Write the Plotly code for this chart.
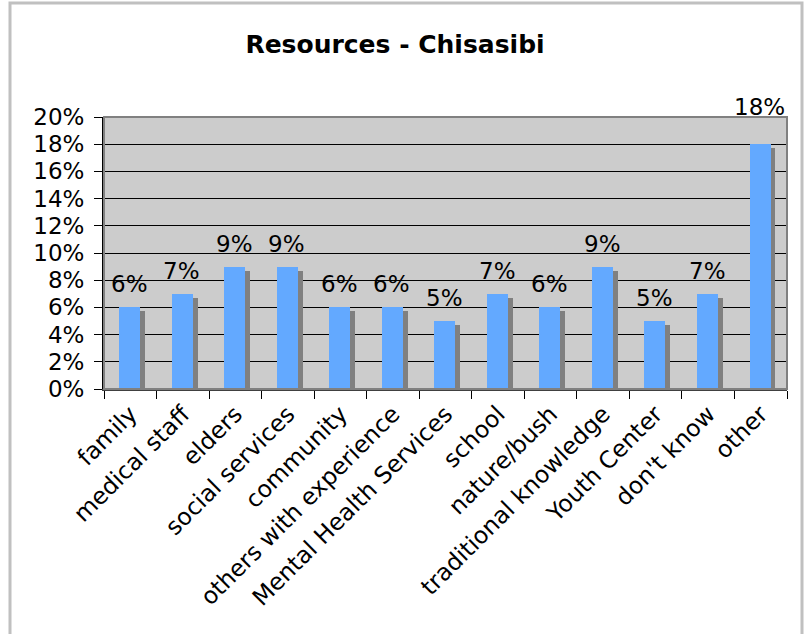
import plotly.graph_objects as go

# Share of respondents naming each resource (percent)
categories = [
    "family", "medical staff", "elders", "social services", "community",
    "others with experience", "Mental Health Services", "school",
    "nature/bush", "traditional knowledge", "Youth Center", "don't know", "other",
]
values = [6, 7, 9, 9, 6, 6, 5, 7, 6, 9, 5, 7, 18]
y_ticks = [0, 2, 4, 6, 8, 10, 12, 14, 16, 18, 20]

W, H = 804, 634
L, R, T, B = 104, 17, 117, 245
plot_w = W - L - R
plot_h = H - T - B
px_per_unit = plot_h / 20.0

BLUE = "#63A9FF"
SHADOW = "#808080"
FONT = "DejaVu Sans"
FS = 23

fig = go.Figure()

# drop shadow behind each column, a few pixels right and down
shadow_drop = 4 / px_per_unit
fig.add_trace(go.Bar(
    x=categories,
    y=[v - shadow_drop for v in values],
    width=0.4, offset=-0.12,
    marker=dict(color=SHADOW, line=dict(width=0)),
    hoverinfo="skip", showlegend=False,
))
fig.add_trace(go.Bar(
    x=categories,
    y=values,
    width=0.4, offset=-0.213,
    marker=dict(color=BLUE, line=dict(width=0)),
    showlegend=False,
))

# value labels above the columns
for c, v in zip(categories, values):
    extra = 14 if v == max(values) else 0
    fig.add_annotation(
        x=c, y=v, text=f"{v}%", showarrow=False,
        xanchor="center", yanchor="bottom", yshift=8 + extra, xshift=-1,
        font=dict(family=FONT, size=FS, color="black"),
    )

def px_x(p):
    return (p - L) / plot_w

def px_y(p):
    return (H - B - p) / plot_h

shapes = [
    # plot-area frame
    dict(type="rect", xref="paper", yref="paper", x0=0, x1=1, y0=0, y1=1,
         line=dict(color="#808080", width=2), layer="above"),
    # outer chart frame
    dict(type="rect", xref="paper", yref="paper",
         x0=px_x(10), x1=px_x(802), y0=px_y(660), y1=px_y(3),
         line=dict(color="#C0C0C0", width=3), layer="below"),
]

fig.update_layout(
    width=W, height=H,
    margin=dict(l=L, r=R, t=T, b=B, pad=0),
    paper_bgcolor="white",
    plot_bgcolor="#CCCCCC",
    barmode="overlay",
    bargap=0,
    shapes=shapes,
    title=dict(
        text="<b>Resources - Chisasibi</b>",
        x=395 / W, xanchor="center", xref="container",
        y=1 - 44 / H, yanchor="middle",
        font=dict(family=FONT, size=25, color="black"),
    ),
    xaxis=dict(
        type="category",
        tickangle=-45,
        tickson="boundaries",
        ticks="outside", ticklen=8, tickcolor="#000000",
        showline=True, linecolor="#404040", linewidth=2,
        showgrid=False,
        tickfont=dict(family=FONT, size=23.5, color="black"),
        range=[-0.5, len(categories) - 0.5],
    ),
    yaxis=dict(
        range=[0, 20],
        tickvals=y_ticks,
        ticktext=[f"{t}%" for t in y_ticks],
        ticks="outside", ticklen=8, tickcolor="#000000",
        ticklabelstandoff=5,
        showline=True, linecolor="#000000", linewidth=2,
        showgrid=True, gridcolor="#000000", gridwidth=1,
        zeroline=False,
        tickfont=dict(family=FONT, size=FS, color="black"),
    ),
)

fig.write_html("out.html")
